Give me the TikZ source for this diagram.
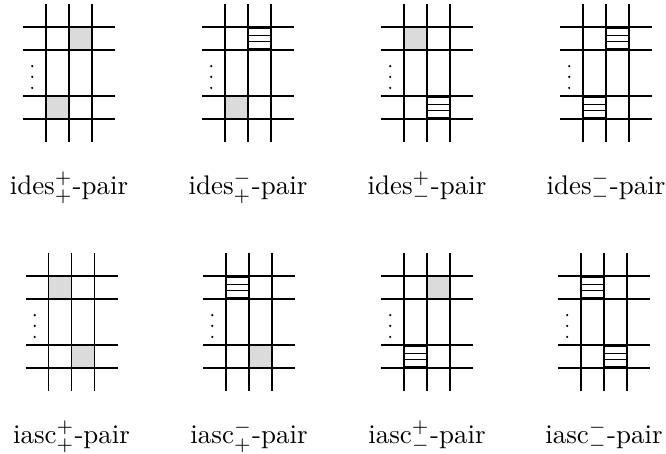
\documentclass[tikz,border=0pt]{standalone}
\usepackage{amsmath}
\usepackage{tikz}
\usetikzlibrary{calc}

\tikzset{
  gridline/.style={line width=0.45pt},
  shadecell/.style={draw,fill=black!14,line width=0.7pt},
  hatchcell/.style={draw,line width=0.7pt,
    path picture={\foreach \f in {0.07,0.36,0.64,0.93}
      \draw[line width=0.45pt] ($(path picture bounding box.south west)!\f!(path picture bounding box.north west)$)
        -- ($(path picture bounding box.south east)!\f!(path picture bounding box.north east)$);}},
  pairlabel/.style={anchor=base,inner sep=0pt},
}

\begin{document}
\begin{tikzpicture}[x=0.3cm,y=0.3cm]
  \useasboundingbox (0,0) rectangle (28.957,-19.739);
  \foreach \cx/\by/\tc/\tk/\bc/\bk/\nm/\lab in {
      3.0/-5.174/1/shadecell/0/shadecell/dpp/{ides$^{+}_{+}$-pair},
      10.783/-5.174/1/hatchcell/0/shadecell/dmp/{ides$^{-}_{+}$-pair},
      18.565/-5.174/0/shadecell/1/hatchcell/dpm/{ides$^{+}_{-}$-pair},
      26.348/-5.174/1/hatchcell/0/hatchcell/dmm/{ides$^{-}_{-}$-pair},
      3.11/-16.0/0/shadecell/1/shadecell/app/{iasc$^{+}_{+}$-pair},
      10.83/-16.0/0/hatchcell/1/shadecell/amp/{iasc$^{-}_{+}$-pair},
      18.565/-16.0/1/shadecell/0/hatchcell/apm/{iasc$^{+}_{-}$-pair},
      26.26/-16.0/0/hatchcell/1/hatchcell/amm/{iasc$^{-}_{-}$-pair}} {
    \foreach \i in {0,1,2} \draw[gridline] (\cx-1+\i,\by-1) -- (\cx-1+\i,\by+5);
    \foreach \j in {0,1,3,4} \draw[gridline] (\cx-2,\by+\j) -- (\cx+2,\by+\j);
    \draw[\tk] (\cx-1+\tc,\by+3) rectangle ++(1,1);
    \draw[\bk] (\cx-1+\bc,\by) rectangle ++(1,1);
    \foreach \d in {1.35,1.83,2.3} \fill (\cx-1.6,\by+\d) circle (0.45pt);
    \node[pairlabel] (lbl-\nm) at (\cx,\by-3.3) {\lab};
  }
\end{tikzpicture}
\end{document}
